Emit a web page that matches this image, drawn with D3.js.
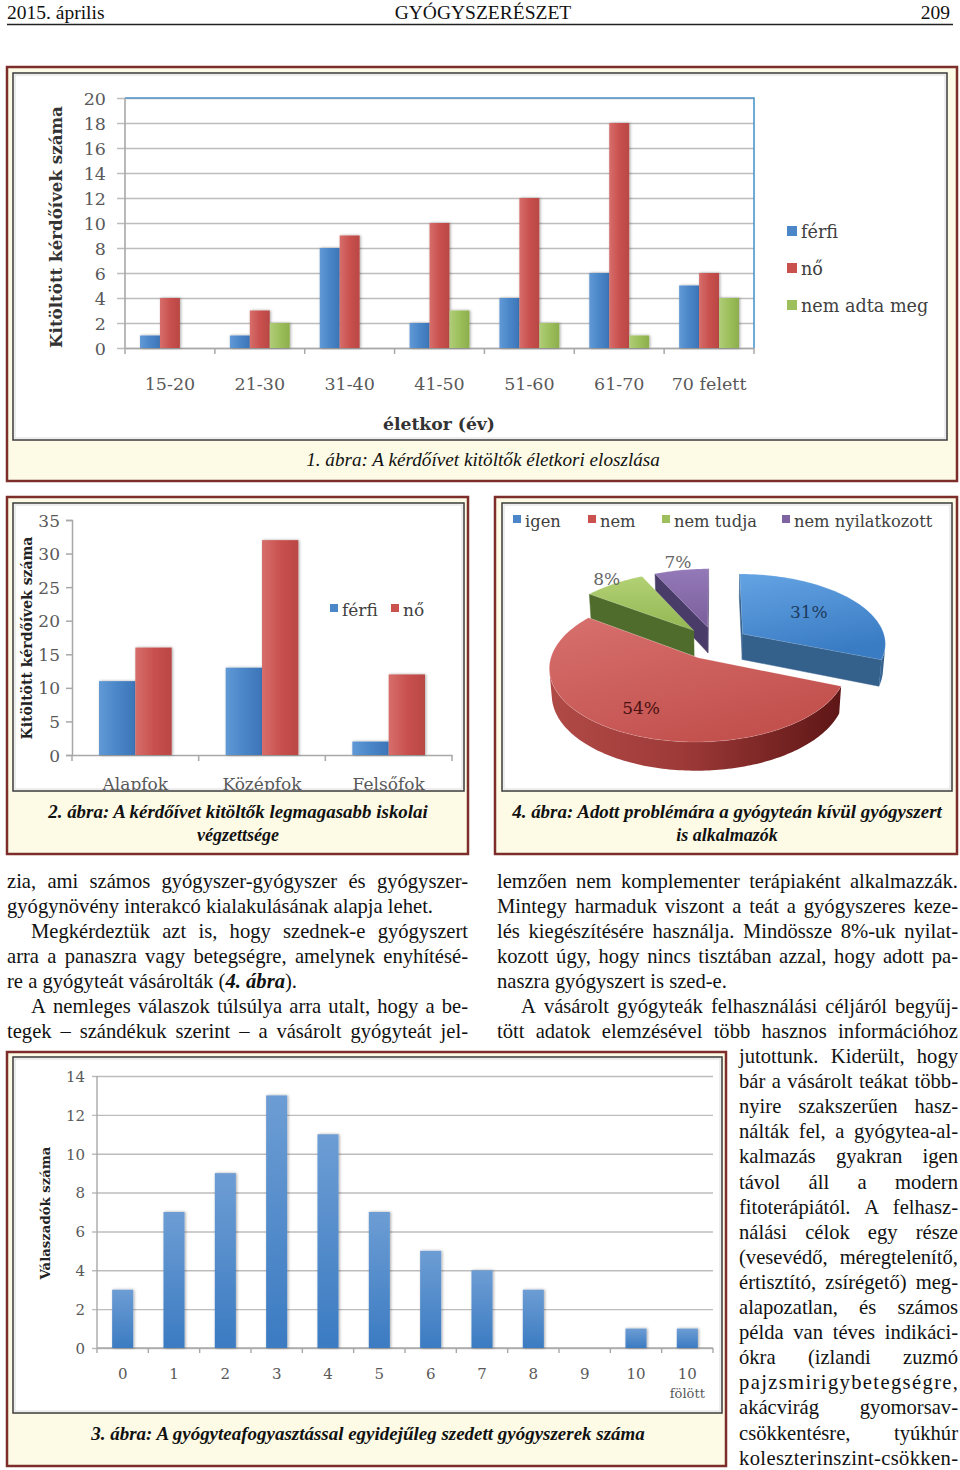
<!DOCTYPE html>
<html><head><meta charset="utf-8">
<script src="https://cdn.jsdelivr.net/npm/d3@7"></script>
<style>body{margin:0;background:#fff}svg{display:block}</style>
</head><body>
<svg id="page" width="960" height="1470"></svg>
<script>
// ---------------- DATA ----------------
const ageGroups = ["15-20", "21-30", "31-40", "41-50", "51-60", "61-70", "70 felett"];
const ageSeries = ["férfi", "nő", "nem adta meg"];
const ageMale = [1, 1, 8, 2, 4, 6, 5];
const ageFemale = [4, 3, 9, 10, 12, 18, 6];
const ageUnknown = [0, 2, 0, 3, 2, 1, 4];
const ageTicks = [0, 2, 4, 6, 8, 10, 12, 14, 16, 18, 20];

const eduLevels = ["Alapfok", "Középfok", "Felsőfok"];
const eduSeries = ["férfi", "nő"];
const eduMale = [11, 13, 2];
const eduFemale = [16, 32, 12];
const eduTicks = [0, 5, 10, 15, 20, 25, 30, 35];

const drugCounts = ["0", "1", "2", "3", "4", "5", "6", "7", "8", "9", "10", "10 fölött"];
const drugRespondents = [3, 7, 9, 13, 11, 7, 5, 4, 3, 0, 1, 1];
const drugTicks = [0, 2, 4, 6, 8, 10, 12, 14];

const pieCats = ["igen", "nem", "nem tudja", "nem nyilatkozott"];
const pieShares = [31, 54, 8, 7];

// ---------------- SETUP ----------------
const svg = d3.select("#page");
const defs = svg.append("defs");
const SERIF = "'Liberation Serif','Times New Roman',serif";
const CH = "'DejaVu Serif',serif";
const GRAY = "#595959";

const flt = defs.append("filter").attr("id", "sh").attr("x", "-30%").attr("y", "-10%").attr("width", "160%").attr("height", "120%");
flt.append("feGaussianBlur").attr("in", "SourceAlpha").attr("stdDeviation", 1.6).attr("result", "b");
flt.append("feOffset").attr("in", "b").attr("dx", 1).attr("dy", 0).attr("result", "o");
flt.append("feComponentTransfer").attr("in", "o").attr("result", "s").append("feFuncA").attr("type", "linear").attr("slope", 0.35);
const fm = flt.append("feMerge"); fm.append("feMergeNode").attr("in", "s"); fm.append("feMergeNode").attr("in", "SourceGraphic");

function grad(id, stops, x1, y1, x2, y2, user) {
  const g = defs.append("linearGradient").attr("id", id)
    .attr("x1", x1).attr("y1", y1).attr("x2", x2).attr("y2", y2);
  if (user) g.attr("gradientUnits", "userSpaceOnUse");
  stops.forEach(s => g.append("stop").attr("offset", s[0]).attr("stop-color", s[1]));
  return "url(#" + id + ")";
}
const barBlue = grad("gb", [[0, "#6199d6"], [0.5, "#4a86c8"], [1, "#3c75b8"]], 0, 0, 1, 0);
const barRed = grad("gr", [[0, "#d66e6b"], [0.5, "#c9514e"], [1, "#b94744"]], 0, 0, 1, 0);
const barGreen = grad("gg", [[0, "#b0cd78"], [0.5, "#9dbf5c"], [1, "#8cae4c"]], 0, 0, 1, 0);
const barBlueV = grad("gbv", [[0, "#6d9dd4"], [1, "#3b7bc2"]], 0, 0, 0, 1);

function fitW(sel, w) {
  const l = sel.node().getComputedTextLength();
  sel.attr("font-size", parseFloat(sel.attr("font-size")) * w / l);
  return sel;
}

function figureBox(o, inr) {
  svg.append("rect").attr("x", o[0]).attr("y", o[1]).attr("width", o[2] - o[0]).attr("height", o[3] - o[1])
    .attr("fill", "#fdfbe6").attr("stroke", "#7d2e2b").attr("stroke-width", 2.5);
  svg.append("rect").attr("x", inr[0]).attr("y", inr[1]).attr("width", inr[2] - inr[0]).attr("height", inr[3] - inr[1])
    .attr("fill", "#fff").attr("stroke", "#3a3a3a").attr("stroke-width", 1.5);
  svg.append("rect").attr("x", inr[0] + 2).attr("y", inr[1] + 2).attr("width", inr[2] - inr[0] - 4).attr("height", inr[3] - inr[1] - 4)
    .attr("fill", "none").attr("stroke", "#dcdcdc").attr("stroke-width", 1);
}

function caption(lines, cx, y0, w, bold) {
  lines.forEach((t, i) => {
    const s = svg.append("text").attr("x", cx).attr("y", y0 + i * 23).attr("text-anchor", "middle")
      .attr("font-family", SERIF).attr("font-style", "italic").attr("font-weight", bold ? "bold" : "normal")
      .attr("font-size", 18).attr("fill", "#111").text(t);
    if (i === 0 && w) fitW(s, w);
  });
}

// ---------------- HEADER ----------------
const hdr = svg.append("g").attr("font-family", SERIF).attr("font-size", 19.5).attr("fill", "#111");
hdr.append("text").attr("x", 7).attr("y", 18.5).text("2015. április");
hdr.append("text").attr("x", 483).attr("y", 18.5).attr("text-anchor", "middle").text("GYÓGYSZERÉSZET");
hdr.append("text").attr("x", 950).attr("y", 18.5).attr("text-anchor", "end").text("209");
svg.append("line").attr("x1", 7).attr("x2", 953).attr("y1", 24.5).attr("y2", 24.5).attr("stroke", "#222").attr("stroke-width", 1.5);

// ---------------- FIGURE 1 ----------------
figureBox([7, 67, 957, 481], [13, 73, 947, 440]);
caption(["1. ábra: A kérdőívet kitöltők életkori eloszlása"], 483, 466, 354, false);
{
  const g = svg.append("g");
  const L = 125, Rr = 754, T = 98, B = 348;
  const x0 = d3.scaleBand().domain(ageGroups).range([L, Rr]).padding(0);
  const x1 = d3.scaleBand().domain(ageSeries).range([15, x0.bandwidth() - 15]).padding(0);
  const y = d3.scaleLinear().domain([0, 20]).range([B, T]);
  const grid = g.append("g").attr("transform", `translate(117,0)`)
    .call(d3.axisLeft(y).tickValues(ageTicks).tickSize(-(Rr - 117)).tickFormat(""));
  grid.select(".domain").remove();
  grid.selectAll("line").attr("stroke", "#bdbdbd").attr("stroke-width", 1.6);
  g.append("path").attr("d", `M${L},${T}H${Rr}V${B}`).attr("fill", "none").attr("stroke", "#4d97cc").attr("stroke-width", 1.6);
  g.append("line").attr("x1", L).attr("x2", L).attr("y1", T).attr("y2", B).attr("stroke", "#a8a8a8").attr("stroke-width", 1.6);
  const xb = g.append("g").attr("transform", `translate(0,${B})`)
    .call(d3.axisBottom(x0).tickSize(0).tickPadding(0).tickFormat(""));
  xb.select(".domain").attr("stroke", "#a8a8a8").attr("stroke-width", 1.6);
  [...ageGroups.map(d => x0(d)), Rr].forEach(xx =>
    g.append("line").attr("x1", xx).attr("x2", xx).attr("y1", B).attr("y2", B + 6).attr("stroke", "#a8a8a8").attr("stroke-width", 1.5));
  const yl = g.append("g").attr("transform", `translate(106,0)`)
    .call(d3.axisLeft(y).tickValues(ageTicks).tickSize(0).tickPadding(0));
  yl.select(".domain").remove();
  yl.selectAll("text").attr("font-family", CH).attr("font-size", 17.5).attr("fill", GRAY).attr("dy", "0.36em");
  const xl = g.append("g").attr("transform", `translate(0,390)`)
    .call(d3.axisBottom(x0).tickSize(0).tickPadding(0));
  xl.select(".domain").remove();
  xl.selectAll("text").attr("font-family", CH).attr("font-size", 17.5).attr("fill", GRAY).attr("dy", 0);
  const seriesVals = [ageMale, ageFemale, ageUnknown];
  const fills = [barBlue, barRed, barGreen];
  ageSeries.forEach((s, si) => {
    g.append("g").attr("filter", "url(#sh)").selectAll("rect").data(ageGroups).join("rect")
      .attr("x", d => x0(d) + x1(s)).attr("width", x1.bandwidth())
      .attr("y", (d, i) => y(seriesVals[si][i])).attr("height", (d, i) => y(0) - y(seriesVals[si][i]))
      .attr("fill", fills[si]);
  });
  fitW(g.append("text").attr("x", 439).attr("y", 430).attr("text-anchor", "middle").attr("font-family", CH)
    .attr("font-weight", "bold").attr("font-size", 19).attr("fill", "#333").text("életkor (év)"), 112);
  fitW(g.append("text").attr("transform", "translate(56,227) rotate(-90)").attr("text-anchor", "middle").attr("dy", "0.35em")
    .attr("font-family", CH).attr("font-weight", "bold").attr("font-size", 17).attr("fill", "#333").text("Kitöltött kérdőívek száma"), 242);
  const lg = g.append("g");
  const lcol = ["#4a86c8", "#c9514e", "#9dbf5c"];
  ageSeries.forEach((s, i) => {
    const yy = 232 + i * 37;
    lg.append("rect").attr("x", 787).attr("y", yy - 6).attr("width", 10).attr("height", 10).attr("fill", lcol[i]);
    lg.append("text").attr("x", 801).attr("y", yy).attr("dy", "0.35em").attr("font-family", CH).attr("font-size", 17.6)
      .attr("fill", "#404040").text(s);
  });
}

// ---------------- FIGURE 2 ----------------
figureBox([7, 497, 468, 854], [13, 503, 464, 791]);
caption(["2. ábra: A kérdőívet kitöltők legmagasabb iskolai", "végzettsége"], 238, 818, 380, true);
{
  const clip = defs.append("clipPath").attr("id", "c2");
  clip.append("rect").attr("x", 14).attr("y", 504).attr("width", 449).attr("height", 286);
  const g = svg.append("g").attr("clip-path", "url(#c2)");
  const L = 72, Rr = 452, T = 520, B = 755;
  const x0 = d3.scaleBand().domain(eduLevels).range([L, Rr]).padding(0);
  const x1 = d3.scaleBand().domain(eduSeries).range([27, x0.bandwidth() - 27]).padding(0);
  const y = d3.scaleLinear().domain([0, 35]).range([B, T]);
  const ya = g.append("g").attr("transform", `translate(${L},0)`)
    .call(d3.axisLeft(y).tickValues(eduTicks).tickSize(6).tickFormat(""));
  ya.selectAll("line,path").attr("stroke", "#a8a8a8").attr("stroke-width", 1.5);
  const xb = g.append("g").attr("transform", `translate(0,${B})`)
    .call(d3.axisBottom(x0).tickSize(0).tickFormat(""));
  xb.select(".domain").attr("stroke", "#a8a8a8").attr("stroke-width", 1.5);
  [...eduLevels.map(d => x0(d)), Rr].forEach(xx =>
    g.append("line").attr("x1", xx).attr("x2", xx).attr("y1", B).attr("y2", B + 6).attr("stroke", "#a8a8a8").attr("stroke-width", 1.5));
  const yl = g.append("g").attr("transform", `translate(60,0)`)
    .call(d3.axisLeft(y).tickValues(eduTicks).tickSize(0).tickPadding(0));
  yl.select(".domain").remove();
  yl.selectAll("text").attr("font-family", CH).attr("font-size", 17).attr("fill", GRAY).attr("dy", "0.36em");
  const xl = g.append("g").attr("transform", `translate(0,790)`)
    .call(d3.axisBottom(x0).tickSize(0).tickPadding(0));
  xl.select(".domain").remove();
  xl.selectAll("text").attr("font-family", CH).attr("font-size", 17).attr("fill", GRAY).attr("dy", 0);
  const vals = [eduMale, eduFemale];
  const fills = [barBlue, barRed];
  eduSeries.forEach((s, si) => {
    g.append("g").attr("filter", "url(#sh)").selectAll("rect").data(eduLevels).join("rect")
      .attr("x", d => x0(d) + x1(s)).attr("width", x1.bandwidth())
      .attr("y", (d, i) => y(vals[si][i])).attr("height", (d, i) => y(0) - y(vals[si][i]))
      .attr("fill", fills[si]);
  });
  fitW(g.append("text").attr("transform", "translate(27,638) rotate(-90)").attr("text-anchor", "middle").attr("dy", "0.35em")
    .attr("font-family", CH).attr("font-weight", "bold").attr("font-size", 15).attr("fill", "#222").text("Kitöltött kérdőívek száma"), 203);
  const lx = [330, 391];
  const lcol = ["#4a86c8", "#c9514e"];
  eduSeries.forEach((s, i) => {
    g.append("rect").attr("x", lx[i]).attr("y", 604).attr("width", 8).attr("height", 8).attr("fill", lcol[i]);
    g.append("text").attr("x", lx[i] + 12).attr("y", 610).attr("dy", "0.35em").attr("font-family", CH).attr("font-size", 17)
      .attr("fill", "#404040").text(s);
  });
}

// ---------------- FIGURE 4 (pie) ----------------
figureBox([495, 497, 957, 854], [502, 503, 952, 791]);
caption(["4. ábra: Adott problémára a gyógyteán kívül gyógyszert", "is alkalmazók"], 727, 818, 430, true);
{
  const g = svg.append("g");
  const lx = [513, 588, 662, 782];
  const lcol = ["#4a86c8", "#c9514e", "#9dbf5c", "#8064a2"];
  pieCats.forEach((s, i) => {
    g.append("rect").attr("x", lx[i]).attr("y", 515).attr("width", 8).attr("height", 8).attr("fill", lcol[i]);
    g.append("text").attr("x", lx[i] + 12).attr("y", 521).attr("dy", "0.35em").attr("font-family", CH).attr("font-size", 16.3)
      .attr("fill", "#404040").text(s);
  });

  const P0 = [715, 643], R = 143.5, ALPHA = 29 * Math.PI / 180, DIST = 1002, DEPTH = 30, EXPLODE = 34;
  const ca = Math.cos(ALPHA), sa = Math.sin(ALPHA);
  const cam = [0, -DIST * ca, DIST * sa];
  const proj = p => {
    const w = DIST + p[1] * ca - p[2] * sa;
    const u = p[1] * sa + p[2] * ca;
    return [P0[0] + DIST * p[0] / w, P0[1] - DIST * u / w];
  };
  const vis = (n, p) => n[0] * (cam[0] - p[0]) + n[1] * (cam[1] - p[1]) + n[2] * (cam[2] - p[2]) > 0;
  const line = pts => "M" + pts.map(p => proj(p).map(v => v.toFixed(2)).join(",")).join("L") + "Z";

  const topG = [
    grad("pt0", [[0, "#64a3e3"], [1, "#3a7cc4"]], 0, 0, 0.3, 1),
    grad("pt1", [[0, "#d7706d"], [1, "#c2504d"]], 0, 0, 0.6, 1),
    grad("pt2", [[0, "#b2d174"], [1, "#93b652"]], 0, 0, 0, 1),
    grad("pt3", [[0, "#9479b8"], [1, "#7a5e9c"]], 0, 0, 0, 1)
  ];
  const sideG = [
    grad("ps0", [[0, "#3f6e9f"], [1, "#2f587f"]], 0, 0, 1, 0),
    grad("ps1", [[0, "#b04a47"], [0.45, "#9e3a38"], [1, "#5e1616"]], 0, 0, 1, 0),
    grad("ps2", [[0, "#5a7834"], [1, "#4a6529"]], 0, 0, 1, 0),
    grad("ps3", [[0, "#50416e"], [1, "#3f3358"]], 0, 0, 1, 0)
  ];
  const radC = ["#34608c", "#7e2a28", "#506c2c", "#4a3c68"];

  const arcs = d3.pie().sort(null).value(d => d)(pieShares);
  const order = arcs.map((a, i) => i).sort((a, b) => {
    const ma = (arcs[a].startAngle + arcs[a].endAngle) / 2, mb = (arcs[b].startAngle + arcs[b].endAngle) / 2;
    return Math.cos(mb) - Math.cos(ma);
  });
  const labelK = [0.6, 0.72, 1.1, 1.15];
  const labelC = ["#1d3a5c", "#4a1212", "#666", "#666"];

  order.forEach(i => {
    const a = arcs[i];
    const a0 = a.startAngle, a1 = a.endAngle, mid = (a0 + a1) / 2;
    const ox = EXPLODE * Math.sin(mid), oy = EXPLODE * Math.cos(mid);
    const pt = (th, rr, z) => [ox + rr * Math.sin(th), oy + rr * Math.cos(th), z];
    const N = Math.max(8, Math.ceil((a1 - a0) / 0.02));
    const ths = d3.range(N + 1).map(k => a0 + (a1 - a0) * k / N);
    const sg = g.append("g");
    [[a0, [-Math.cos(a0), Math.sin(a0), 0]], [a1, [Math.cos(a1), -Math.sin(a1), 0]]].forEach(([th, n]) => {
      const q = [pt(0, 0, 0), pt(th, R, 0), pt(th, R, -DEPTH), pt(0, 0, -DEPTH)];
      const c = pt(th, R / 2, -DEPTH / 2);
      if (vis(n, c)) sg.append("path").attr("d", line(q)).attr("fill", radC[i]).attr("stroke", radC[i]).attr("stroke-width", 0.5);
    });
    let run = [];
    const flush = () => {
      if (run.length > 1) {
        const pts = run.map(t => pt(t, R, 0)).concat(run.slice().reverse().map(t => pt(t, R, -DEPTH)));
        sg.append("path").attr("d", line(pts)).attr("fill", sideG[i]).attr("stroke", "none");
      }
      run = [];
    };
    for (let k = 0; k < N; k++) {
      const tm = (ths[k] + ths[k + 1]) / 2;
      const n = [Math.sin(tm), Math.cos(tm), 0];
      if (vis(n, pt(tm, R, -DEPTH / 2))) { if (!run.length) run.push(ths[k]); run.push(ths[k + 1]); }
      else flush();
    }
    flush();
    const topPts = [pt(0, 0, 0)].concat(ths.map(t => pt(t, R, 0)));
    sg.append("path").attr("d", line(topPts)).attr("fill", topG[i]).attr("stroke", "rgba(255,255,255,0.25)").attr("stroke-width", 0.6);
    const lp = proj(pt(mid, R * labelK[i], 0));
    g.append("text").attr("class", "pl").attr("x", lp[0]).attr("y", lp[1]).attr("dy", "0.35em").attr("text-anchor", "middle")
      .attr("font-family", CH).attr("font-size", 17).attr("fill", labelC[i]).text(Math.round(a.data) + "%");
  });
  g.selectAll(".pl").raise();
}

// ---------------- FIGURE 3 ----------------
figureBox([7, 1052, 726, 1466], [13, 1057, 722, 1413]);
caption(["3. ábra: A gyógyteafogyasztással egyidejűleg szedett gyógyszerek száma"], 368, 1440, 554, true);
{
  const g = svg.append("g");
  const L = 97, Rr = 713, T = 1076, B = 1348;
  const x = d3.scaleBand().domain(drugCounts).range([L, Rr]).padding(0);
  const y = d3.scaleLinear().domain([0, 14]).range([B, T]);
  const grid = g.append("g").attr("transform", `translate(92,0)`)
    .call(d3.axisLeft(y).tickValues(drugTicks).tickSize(-(Rr - 92)).tickFormat(""));
  grid.select(".domain").remove();
  grid.selectAll("line").attr("stroke", "#bdbdbd").attr("stroke-width", 1.4);
  g.append("line").attr("x1", L).attr("x2", L).attr("y1", T).attr("y2", B).attr("stroke", "#a8a8a8").attr("stroke-width", 1.4);
  g.append("line").attr("x1", L).attr("x2", Rr).attr("y1", B).attr("y2", B).attr("stroke", "#a8a8a8").attr("stroke-width", 1.6);
  [...drugCounts.map(d => x(d)), Rr].forEach(xx =>
    g.append("line").attr("x1", xx).attr("x2", xx).attr("y1", B).attr("y2", B + 5).attr("stroke", "#a8a8a8").attr("stroke-width", 1.4));
  const yl = g.append("g").attr("transform", `translate(85,0)`)
    .call(d3.axisLeft(y).tickValues(drugTicks).tickSize(0).tickPadding(0));
  yl.select(".domain").remove();
  yl.selectAll("text").attr("font-family", CH).attr("font-size", 15).attr("fill", GRAY).attr("dy", "0.36em");
  const xl = g.append("g").attr("transform", `translate(0,1379)`)
    .call(d3.axisBottom(x).tickSize(0).tickPadding(0).tickFormat(d => d.split(" ")[0]));
  xl.select(".domain").remove();
  xl.selectAll("text").attr("font-family", CH).attr("font-size", 15).attr("fill", GRAY).attr("dy", 0);
  xl.selectAll(".tick").filter(d => d.includes(" ")).append("text").attr("y", 19).attr("text-anchor", "middle")
    .attr("font-family", CH).attr("font-size", 13).attr("fill", GRAY).text(d => d.split(" ")[1]);
  const bw = x.bandwidth() * 0.41;
  g.append("g").attr("filter", "url(#sh)").selectAll("rect").data(drugCounts).join("rect")
    .attr("x", d => x(d) + (x.bandwidth() - bw) / 2).attr("width", bw)
    .attr("y", (d, i) => y(drugRespondents[i])).attr("height", (d, i) => y(0) - y(drugRespondents[i]))
    .attr("fill", barBlueV);
  fitW(g.append("text").attr("transform", "translate(45,1213) rotate(-90)").attr("text-anchor", "middle").attr("dy", "0.35em")
    .attr("font-family", CH).attr("font-weight", "bold").attr("font-size", 14).attr("fill", "#222").text("Válaszadók száma"), 133);
}

// ---------------- BODY TEXT ----------------
const body = svg.append("g").attr("font-family", SERIF).attr("font-size", 20.6).attr("fill", "#111");
function textLine(str, x0, x1, y, justify) {
  const words = str.split(" ");
  if (!justify) { body.append("text").attr("x", x0).attr("y", y).text(str); return; }
  if (words.length === 1) {
    body.append("text").attr("x", x0).attr("y", y).attr("textLength", x1 - x0).attr("lengthAdjust", "spacing").text(str);
    return;
  }
  const nodes = words.map(w => body.append("text").attr("y", y).text(w));
  const widths = nodes.map(n => n.node().getComputedTextLength());
  const gap = (x1 - x0 - d3.sum(widths)) / (words.length - 1);
  let xx = x0;
  nodes.forEach((n, i) => { n.attr("x", xx); xx += widths[i] + gap; });
}
const leftLines = [
  ["zia, ami számos gyógyszer-gyógyszer és gyógyszer-", 1, 0],
  ["gyógynövény interakcó kialakulásának alapja lehet.", 0, 0],
  ["Megkérdeztük azt is, hogy szednek-e gyógyszert", 1, 24],
  ["arra a panaszra vagy betegségre, amelynek enyhítésé-", 1, 0],
  [null, 0, 0],
  ["A nemleges válaszok túlsúlya arra utalt, hogy a be-", 1, 24],
  ["tegek – szándékuk szerint – a vásárolt gyógyteát jel-", 1, 0]
];
leftLines.forEach((l, i) => {
  const y = 888 + i * 25;
  if (l[0] === null) {
    const t = body.append("text").attr("x", 7).attr("y", y);
    t.append("tspan").text("re a gyógyteát vásárolták (");
    t.append("tspan").attr("font-weight", "bold").attr("font-style", "italic").text("4. ábra");
    t.append("tspan").text(").");
  } else textLine(l[0], 7 + l[2], 468, y, l[1]);
});
const rightLines = [
  ["lemzően nem komplementer terápiaként alkalmazzák.", 1, 0],
  ["Mintegy harmaduk viszont a teát a gyógyszeres keze-", 1, 0],
  ["lés kiegészítésére használja. Mindössze 8%-uk nyilat-", 1, 0],
  ["kozott úgy, hogy nincs tisztában azzal, hogy adott pa-", 1, 0],
  ["naszra gyógyszert is szed-e.", 0, 0],
  ["A vásárolt gyógyteák felhasználási céljáról begyűj-", 1, 24],
  ["tött adatok elemzésével több hasznos információhoz", 1, 0]
];
rightLines.forEach((l, i) => textLine(l[0], 497 + l[2], 958, 888 + i * 25, l[1]));
const narrowLines = [
  "jutottunk. Kiderült, hogy",
  "bár a vásárolt teákat több-",
  "nyire szakszerűen hasz-",
  "nálták fel, a gyógytea-al-",
  "kalmazás gyakran igen",
  "távol áll a modern",
  "fitoterápiától. A felhasz-",
  "nálási célok egy része",
  "(vesevédő, méregtelenítő,",
  "értisztító, zsírégető) meg-",
  "alapozatlan, és számos",
  "példa van téves indikáci-",
  "ókra (izlandi zuzmó",
  "pajzsmirigybetegségre,",
  "akácvirág gyomorsav-",
  "csökkentésre, tyúkhúr",
  "koleszterinszint-csökken-"
];
narrowLines.forEach((l, i) => textLine(l, 739, 958, 1063 + i * 25.1, 1));
</script>
</body></html>
